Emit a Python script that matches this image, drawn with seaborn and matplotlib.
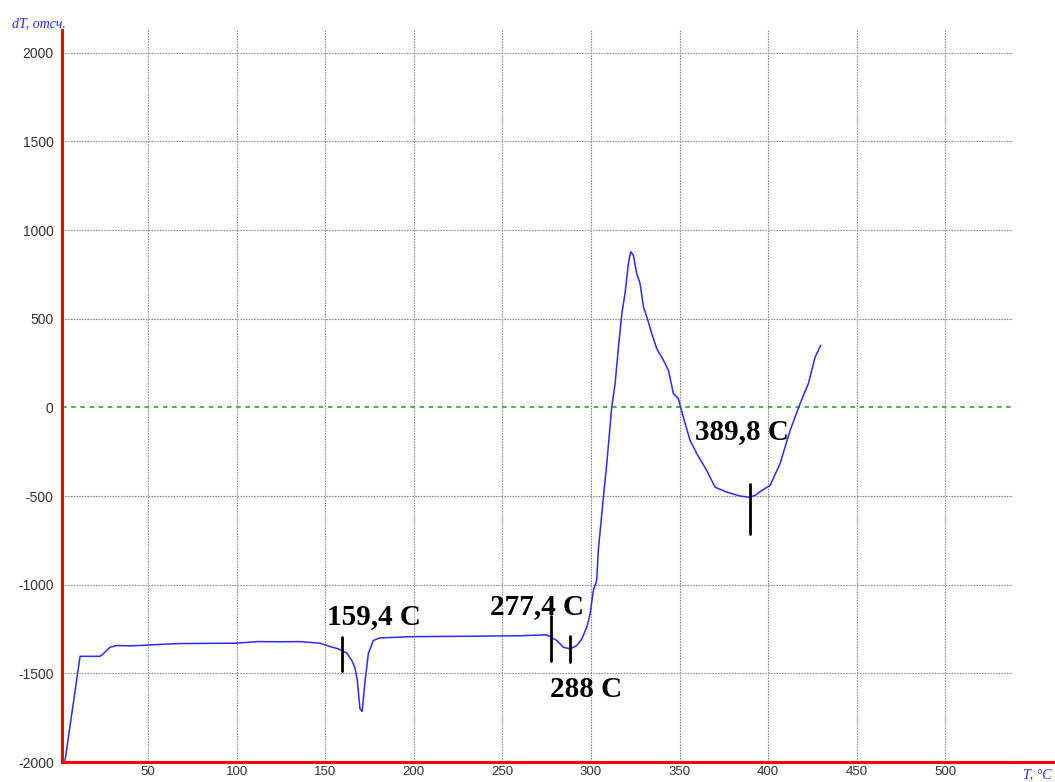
import matplotlib
matplotlib.use("Agg")
import matplotlib.pyplot as plt
import seaborn as sns
import pandas as pd

# DTA curve: temperature (°C) and differential signal (counts)
temperature = [3.1, 11.6, 22.8, 24.7, 28.5, 32.3, 40.0, 49.2, 58.0, 68.0, 85.0, 100.0,
               111.3, 125.0, 135.8, 147.0, 152.7, 157.4, 162.1, 165.0, 166.8, 168.1,
               169.6, 170.8, 172.5, 174.3, 177.1, 180.9, 199.7, 230.0, 260.0, 275.0,
               280.7, 284.4, 288.2, 292.0, 294.8, 297.6, 299.5, 301.3, 303.2, 304.2,
               307.0, 308.9, 311.7, 313.6, 315.5, 317.4, 319.2, 321.1, 322.4, 323.9,
               325.8, 327.7, 329.6, 331.5, 334.3, 337.1, 340.9, 343.7, 346.5, 349.3,
               352.1, 355.9, 359.7, 365.3, 370.0, 376.6, 384.1, 388.8, 392.6, 396.4,
               401.1, 406.7, 412.4, 418.0, 422.7, 426.5, 429.7]
signal = [-1993, -1404, -1404, -1390, -1353, -1343, -1345, -1341, -1336, -1332, -1331, -1330,
          -1321, -1322, -1321, -1330, -1349, -1362, -1385, -1428, -1470, -1541,
          -1701, -1714, -1541, -1390, -1315, -1300, -1293, -1291, -1288, -1283,
          -1315, -1353, -1362, -1343, -1306, -1240, -1165, -1033, -977, -798,
          -506, -318, 2, 134, 340, 529, 642, 811, 877, 858,
          755, 698, 566, 510, 416, 331, 265, 209, 77, 49,
          -55, -186, -261, -356, -450, -478, -500, -506, -497, -469,
          -440, -318, -130, 21, 134, 284, 350]

# Marked peak temperatures, their captions and the span of each marker stroke
peak_temps = [159.4, 277.4, 288.0, 389.8]
peak_labels = ["159,4 C", "277,4 C", "288 C", "389,8 C"]
marker_low = [-1485, -1428, -1438, -713]
marker_high = [-1296, -1174, -1287, -431]

x_ticks = [50, 100, 150, 200, 250, 300, 350, 400, 450, 500]
y_ticks = [-2000, -1500, -1000, -500, 0, 500, 1000, 1500, 2000]

df = pd.DataFrame({"T": temperature, "dT": signal})

sns.set_theme(style="white")
plt.rcParams["font.family"] = ["Liberation Sans", "DejaVu Sans"]
plt.rcParams["axes.unicode_minus"] = False

fig = plt.figure(figsize=(10.55, 7.82), dpi=100)
ax = fig.add_axes([62 / 1055, 20 / 782, (1013 - 62) / 1055, (762 - 30) / 782])

ax.set_xlim(1.4, 538.2)
ax.set_ylim(-2000, 2128)

# grid
grid_kw = dict(color="#909090", lw=0.8, ls=(0, (1.5, 1.0)), zorder=1)
for xv in x_ticks:
    ax.axvline(xv, **grid_kw)
for yv in y_ticks:
    if yv == 0:
        ax.axhline(yv, color="#1f9a1f", lw=1.1, ls=(0, (3, 3)), zorder=1)
    elif yv != -2000:
        ax.axhline(yv, **grid_kw)

sns.lineplot(data=df, x="T", y="dT", sort=False, ax=ax, color="#2b2bff",
             lw=1.1, zorder=3)

# peak markers and captions (caption offset from the marker end, in data units)
offsets = {"159,4 C": (-8.6, 75), "277,4 C": (-34.4, 10),
           "288 C": (-11.1, -197), "389,8 C": (-31.1, 254)}
for t, lab, lo, hi in zip(peak_temps, peak_labels, marker_low, marker_high):
    ax.plot([t, t], [lo, hi], color="black", lw=2.0, zorder=4)
    dx, dy = offsets[lab]
    base = hi if dy > 0 else lo
    ax.text(t + dx, base + dy, lab, ha="left", va="baseline",
            family="Liberation Serif", weight="bold", fontsize=21, color="black",
            zorder=5)

ax.set_xticks(x_ticks)
ax.set_yticks(y_ticks)
ax.tick_params(axis="y", length=0, labelsize=10, colors="#333333", pad=6)
ax.tick_params(axis="x", length=0, labelsize=9.5, colors="#333333", pad=3)
ax.set_xlabel("")
ax.set_ylabel("")

for side in ["top", "right"]:
    ax.spines[side].set_visible(False)
for side in ["left", "bottom"]:
    ax.spines[side].set_color("#ff0000")
    ax.spines[side].set_linewidth(2.2)
    ax.spines[side].set_zorder(6)

# bottom axis line continues to the figure edge
ax.plot([1.0, 1.05], [0, 0], transform=ax.transAxes, color="#ff0000",
        lw=2.2, clip_on=False, zorder=6)

fig.text(12 / 1055, 1 - 27 / 782, "dT, отсч.", family="Liberation Serif",
         style="italic", fontsize=10, color="#2a2aff", ha="left", va="baseline")
fig.text(1023 / 1055, 1 - 778 / 782, "T, °C", family="Liberation Serif",
         style="italic", fontsize=10, color="#2a2aff", ha="left", va="baseline")

fig.savefig("out.png", dpi=100, facecolor="white")
